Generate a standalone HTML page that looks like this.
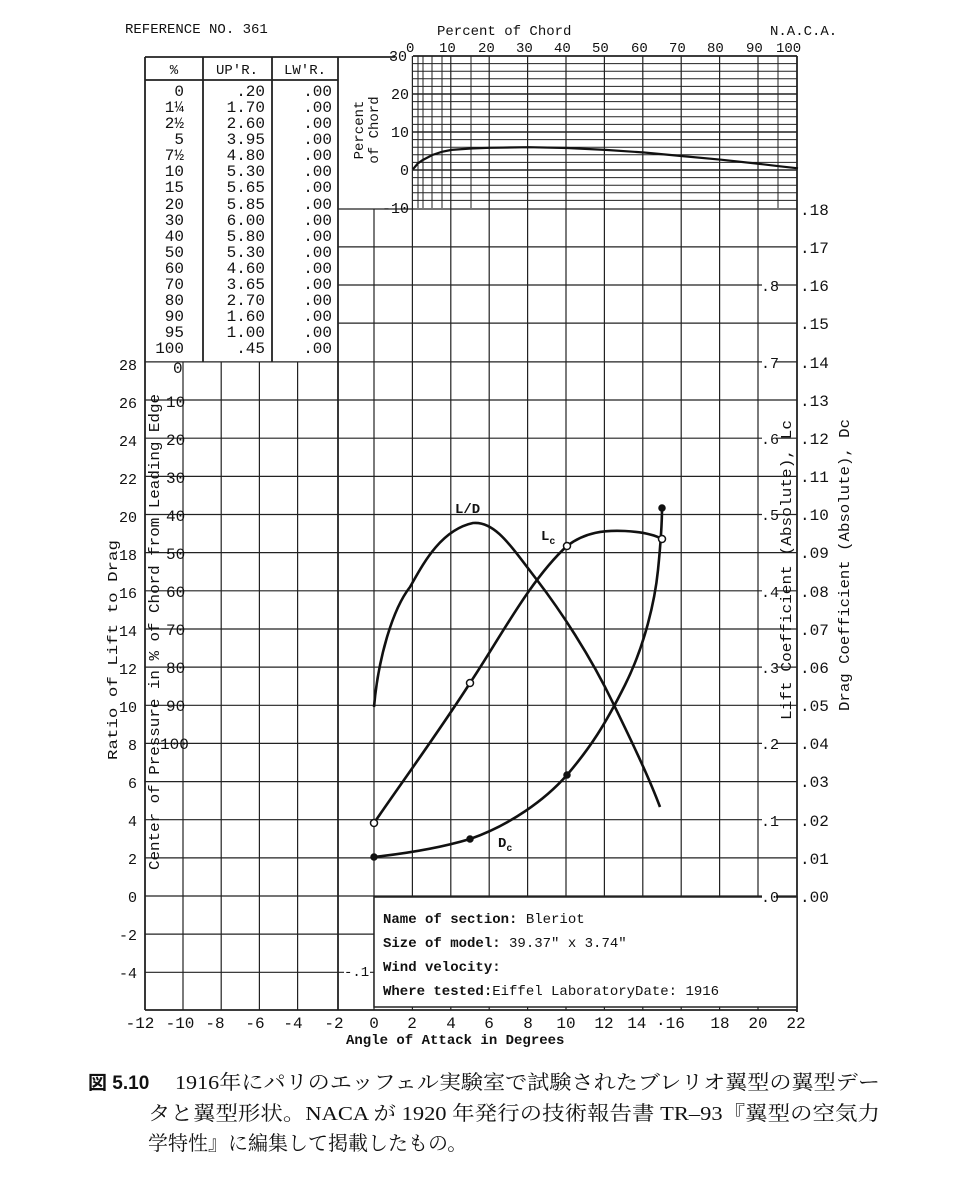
<!DOCTYPE html>
<html><head><meta charset="utf-8"><style>
html,body{margin:0;padding:0;background:#fff;}
svg{display:block}
.m{font-family:"Liberation Mono",monospace;fill:#111}
.c{font-family:"Liberation Serif","Noto Serif CJK SC",serif;fill:#111}
</style></head><body>
<svg width="972" height="1177" viewBox="0 0 972 1177" xmlns="http://www.w3.org/2000/svg">
<rect width="972" height="1177" fill="#fff"/>
<g class="m" font-size="14">
<text x="125" y="33">REFERENCE NO. 361</text>
<text x="437" y="35">Percent of Chord</text>
<text x="770" y="35">N.A.C.A.</text>
</g>
<!-- airfoil fine grid -->
<g stroke="#222" stroke-width="1" fill="none">
<path d="M413 63.6H797M413 71.2H797M413 78.8H797M413 86.4H797M413 101.6H797M413 109.2H797M413 116.8H797M413 124.4H797M413 139.6H797M413 147.2H797M413 154.8H797M413 162.4H797M413 177.6H797M413 185.2H797M413 192.8H797M413 200.4H797"/>
<path d="M418 56V208M423 56V208M432 56V208M442 56V208M471 56V208M778 56V208"/>
<path stroke-width="1.6" d="M413 94H797M413 132H797M413 170H797"/>
</g>
<!-- main grid -->
<g stroke="#222" stroke-width="1.2" fill="none">
<path d="M183 362V1010M221.2 362V1010M259.4 362V1010M297.6 362V1010"/>
<path d="M374 209V1010"/>
<path d="M412.4 56V1010M450.8 56V1010M489.2 56V1010M527.6 56V1010M566 56V1010M604.4 56V1010M642.8 56V1010M681.2 56V1010M719.6 56V1010M758 56V1010"/>
<path d="M338 209H797M338 246.85H797M338 285H797M338 323.15H797"/>
<path d="M145 361.9H797M145 400H797M145 438.2H797M145 476.35H797M145 514.5H797M145 552.6H797M145 590.8H797M145 629H797M145 667.1H797M145 705.3H797M145 743.4H797M145 781.6H797M145 819.7H797M145 857.9H797M145 896H797"/>
<path d="M145 934.15H374M145 972.3H374"/>
<path stroke-width="1.8" d="M145 57H395M145 80H338M145 57V1010M203 57V362M272 57V362M338 57V1010M145 1010H797M797 56V1012M413 56H797"/>
</g>
<!-- info box -->
<rect x="374" y="897" width="423" height="110" fill="#fff" stroke="#222" stroke-width="1.5"/>
<g class="m" font-size="14">
<text x="383" y="923"><tspan font-weight="bold">Name of section:</tspan> Bleriot</text>
<text x="383" y="947"><tspan font-weight="bold">Size of model:</tspan>   39.37" x 3.74"</text>
<text x="383" y="971" font-weight="bold">Wind velocity:</text>
<text x="383" y="995"><tspan font-weight="bold">Where tested:</tspan>Eiffel LaboratoryDate: 1916</text>
<rect x="344" y="962" width="26" height="16" fill="#fff"/>
<text x="344" y="976">-.1</text>
</g>
<!-- airfoil -->
<path d="M413 169.2 L417.8 163.5 L422.6 160.1 L432.3 155 L441.9 151.8 L451.5 149.9 L470.8 148.5 L490 147.8 L528.5 147.2 L567 148 L605.5 149.9 L644 152.5 L682.5 156.1 L721 159.7 L759.5 163.9 L778.8 166.2 L798 168.3" fill="none" stroke="#111" stroke-width="2.2"/>
<!-- airfoil axis labels -->
<g class="m" font-size="15">
<text x="389" y="61">30</text><text x="391" y="99">20</text><text x="391" y="137">10</text><text x="400" y="175">0</text><text x="382" y="213">-10</text>
</g>
<g class="m" font-size="14">
<text x="406" y="52">0</text><text x="439" y="52">10</text><text x="478" y="52">20</text><text x="516" y="52">30</text><text x="554" y="52">40</text><text x="592" y="52">50</text><text x="631" y="52">60</text><text x="669" y="52">70</text><text x="707" y="52">80</text><text x="746" y="52">90</text><text x="776" y="52">100</text>
</g>
<g class="m" font-size="14">
<text transform="translate(363,130) rotate(-90)" text-anchor="middle">Percent</text>
<text transform="translate(378,130) rotate(-90)" text-anchor="middle">of Chord</text>
</g>
<!-- table -->
<g class="m" font-size="14">
<text x="174" y="74" text-anchor="middle">%</text><text x="237" y="74" text-anchor="middle">UP'R.</text><text x="305" y="74" text-anchor="middle">LW'R.</text>
</g>
<g class="m" font-size="16" text-anchor="end">
<text x="184" y="96">0</text><text x="184" y="112">1¼</text><text x="184" y="128">2½</text><text x="184" y="144">5</text><text x="184" y="160">7½</text><text x="184" y="176">10</text><text x="184" y="192">15</text><text x="184" y="209">20</text><text x="184" y="225">30</text><text x="184" y="241">40</text><text x="184" y="257">50</text><text x="184" y="273">60</text><text x="184" y="289">70</text><text x="184" y="305">80</text><text x="184" y="321">90</text><text x="184" y="337">95</text><text x="184" y="353">100</text>
<text x="265" y="96">.20</text><text x="265" y="112">1.70</text><text x="265" y="128">2.60</text><text x="265" y="144">3.95</text><text x="265" y="160">4.80</text><text x="265" y="176">5.30</text><text x="265" y="192">5.65</text><text x="265" y="209">5.85</text><text x="265" y="225">6.00</text><text x="265" y="241">5.80</text><text x="265" y="257">5.30</text><text x="265" y="273">4.60</text><text x="265" y="289">3.65</text><text x="265" y="305">2.70</text><text x="265" y="321">1.60</text><text x="265" y="337">1.00</text><text x="265" y="353">.45</text>
<text x="332" y="96">.00</text><text x="332" y="112">.00</text><text x="332" y="128">.00</text><text x="332" y="144">.00</text><text x="332" y="160">.00</text><text x="332" y="176">.00</text><text x="332" y="192">.00</text><text x="332" y="209">.00</text><text x="332" y="225">.00</text><text x="332" y="241">.00</text><text x="332" y="257">.00</text><text x="332" y="273">.00</text><text x="332" y="289">.00</text><text x="332" y="305">.00</text><text x="332" y="321">.00</text><text x="332" y="337">.00</text><text x="332" y="353">.00</text>
</g>
<!-- left L/D labels -->
<g class="m" font-size="15" text-anchor="end">
<text x="137" y="370">28</text><text x="137" y="408">26</text><text x="137" y="446">24</text><text x="137" y="484">22</text><text x="137" y="522">20</text><text x="137" y="560">18</text><text x="137" y="598">16</text><text x="137" y="636">14</text><text x="137" y="674">12</text><text x="137" y="712">10</text><text x="137" y="750">8</text><text x="137" y="788">6</text><text x="137" y="826">4</text><text x="137" y="864">2</text><text x="137" y="902">0</text><text x="137" y="940">-2</text><text x="137" y="978">-4</text>
</g>
<g class="m" font-size="16">
<text x="173" y="373">0</text><text x="166" y="407">10</text><text x="166" y="445">20</text><text x="166" y="483">30</text><text x="166" y="521">40</text><text x="166" y="559">50</text><text x="166" y="597">60</text><text x="166" y="635">70</text><text x="166" y="673">80</text><text x="166" y="711">90</text><text x="160" y="749">100</text>
</g>
<g class="m" font-size="14">
<text transform="translate(117,650) rotate(-90)" text-anchor="middle" textLength="220" lengthAdjust="spacingAndGlyphs">Ratio of Lift to Drag</text>
</g>
<g class="m" font-size="15">
<text transform="translate(159,632) rotate(-90)" text-anchor="middle" textLength="476" lengthAdjust="spacingAndGlyphs">Center of Pressure in % of Chord from Leading Edge</text>
<text transform="translate(791,570) rotate(-90)" text-anchor="middle" textLength="300" lengthAdjust="spacingAndGlyphs">Lift Coefficient (Absolute), Lc</text>
<text transform="translate(849,565) rotate(-90)" text-anchor="middle" textLength="292" lengthAdjust="spacingAndGlyphs">Drag Coefficient (Absolute), Dc</text>
</g>
<!-- right labels -->
<g class="m" font-size="16">
<text x="800" y="215">.18</text><text x="800" y="253">.17</text><text x="800" y="291">.16</text><text x="800" y="329">.15</text><text x="800" y="368">.14</text><text x="800" y="406">.13</text><text x="800" y="444">.12</text><text x="800" y="482">.11</text><text x="800" y="520">.10</text><text x="800" y="558">.09</text><text x="800" y="597">.08</text><text x="800" y="635">.07</text><text x="800" y="673">.06</text><text x="800" y="711">.05</text><text x="800" y="749">.04</text><text x="800" y="787">.03</text><text x="800" y="826">.02</text><text x="800" y="864">.01</text><text x="800" y="902">.00</text>
</g>
<g class="m" font-size="15">
<rect x="762" y="278" width="14" height="14" fill="#fff"/><text x="761" y="291">.8</text>
<rect x="762" y="355" width="14" height="14" fill="#fff"/><text x="761" y="368">.7</text>
<rect x="762" y="431" width="14" height="14" fill="#fff"/><text x="761" y="444">.6</text>
<rect x="762" y="508" width="14" height="14" fill="#fff"/><text x="761" y="520">.5</text>
<rect x="762" y="584" width="14" height="14" fill="#fff"/><text x="761" y="597">.4</text>
<rect x="762" y="660" width="14" height="14" fill="#fff"/><text x="761" y="673">.3</text>
<rect x="762" y="736" width="14" height="14" fill="#fff"/><text x="761" y="749">.2</text>
<rect x="762" y="813" width="14" height="14" fill="#fff"/><text x="761" y="826">.1</text>
<rect x="762" y="889" width="14" height="14" fill="#fff"/><text x="761" y="902">.0</text>
</g>
<!-- curves -->
<g fill="none" stroke="#111" stroke-width="2.6">
<path d="M374 707 C378 660,392 610,410 587 C422 566,440 530,473 523 C495 521,510 545,537 580 C560 610,590 655,613 703 C630 738,648 775,660 807"/>
<path d="M374 823 C400 785,440 730,470 683 C500 638,530 580,567 546 C585 532,605 530,625 531 C645 532,655 535,662 539"/>
<path d="M374 857 C410 853,440 848,470 839 C510 825,545 800,567 775 C590 748,605 725,625 685 C645 645,655 600,658 570 C661 540,662 520,662 508"/>
</g>
<g stroke="#111" stroke-width="1.5">
<circle cx="374" cy="823" r="3.5" fill="#fff"/><circle cx="470" cy="683" r="3.5" fill="#fff"/><circle cx="567" cy="546" r="3.5" fill="#fff"/><circle cx="662" cy="539" r="3.5" fill="#fff"/>
<circle cx="374" cy="857" r="3" fill="#111"/><circle cx="470" cy="839" r="3" fill="#111"/><circle cx="567" cy="775" r="3" fill="#111"/><circle cx="662" cy="508" r="3" fill="#111"/>
</g>
<g class="m" font-size="14" font-weight="bold">
<text x="455" y="513">L/D</text>
<text x="541" y="540">L<tspan font-size="10" dy="4">c</tspan></text>
<text x="498" y="847">D<tspan font-size="10" dy="4">c</tspan></text>
</g>
<!-- bottom ticks -->
<g class="m" font-size="16" text-anchor="middle">
<text x="140" y="1028">-12</text><text x="180" y="1028">-10</text><text x="215" y="1028">-8</text><text x="255" y="1028">-6</text><text x="293" y="1028">-4</text><text x="334" y="1028">-2</text><text x="374" y="1028">0</text><text x="412" y="1028">2</text><text x="451" y="1028">4</text><text x="489" y="1028">6</text><text x="528" y="1028">8</text><text x="566" y="1028">10</text><text x="604" y="1028">12</text><text x="656" y="1028">14 ·16</text><text x="720" y="1028">18</text><text x="758" y="1028">20</text><text x="796" y="1028">22</text>
</g>
<text class="m" x="346" y="1044" font-size="14" font-weight="bold">Angle of Attack in Degrees</text>
<!-- caption -->
<g class="c" font-size="20">
<text x="88" y="1089" font-size="19" font-family="Liberation Sans,Noto Sans CJK JP,sans-serif" font-weight="bold">図 5.10</text>
<text x="175" y="1089" textLength="705" lengthAdjust="spacingAndGlyphs">1916年にパリのエッフェル実験室で試験されたブレリオ翼型の翼型デー</text>
<text x="148" y="1120" textLength="732" lengthAdjust="spacingAndGlyphs">タと翼型形状。NACA が 1920 年発行の技術報告書 TR–93『翼型の空気力</text>
<text x="148" y="1150">学特性』に編集して掲載したもの。</text>
</g>
</svg>
</body></html>
